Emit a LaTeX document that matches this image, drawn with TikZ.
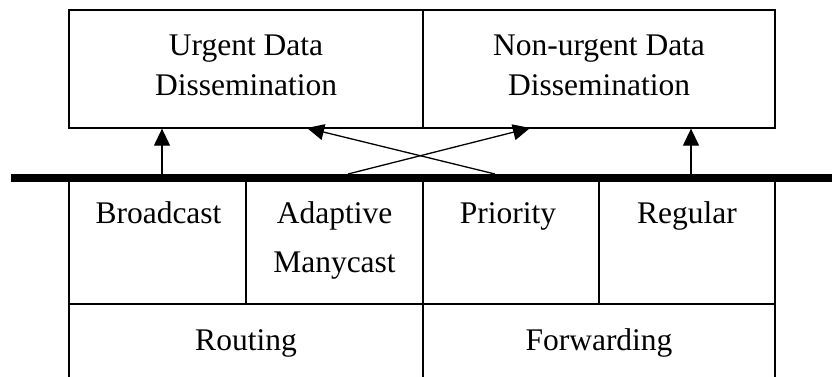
\documentclass[tikz,border=0pt]{standalone}
\usepackage{fontspec}
\setmainfont{Liberation Serif}
\usetikzlibrary{arrows.meta}
\begin{document}
\begin{tikzpicture}[x=1pt,y=-1pt,
  box/.style={draw,line width=1.3pt,inner sep=0pt,minimum width=#1},
  lbl/.style={anchor=base,inner sep=0pt,font=\fontsize{31.5}{36}\selectfont},
  arr/.style={line width=1.3pt,-{Triangle[length=17pt,width=16pt]}},
  bus/.style={line width=8pt}]
\useasboundingbox (0,0) rectangle (832,376);
\clip (0,0) rectangle (832,376);
% top boxes
\node[box=354pt,minimum height=118pt] (urg) at (246,69) {};
\node[box=352pt,minimum height=118pt] (non) at (599,69) {};
\node[lbl] (urg1) at (246,55) {Urgent Data};
\node[lbl] (urg2) at (246,95) {Dissemination};
\node[lbl] (non1) at (599,55) {Non-urgent Data};
\node[lbl] (non2) at (599,95) {Dissemination};
% lower boxes
\node[box=177pt,minimum height=126pt] (bc) at (157.5,241) {};
\node[box=177pt,minimum height=126pt] (am) at (334.5,241) {};
\node[box=176pt,minimum height=126pt] (pr) at (511,241) {};
\node[box=176pt,minimum height=126pt] (rg) at (687,241) {};
\node[box=354pt,minimum height=90pt] (rt) at (246,349) {};
\node[box=352pt,minimum height=90pt] (fw) at (599,349) {};
\node[lbl] (bct) at (158.5,223) {Broadcast};
\node[lbl] (amt1) at (334.5,223) {Adaptive};
\node[lbl] (amt2) at (334.5,272) {Manycast};
\node[lbl] (prt) at (508,223) {Priority};
\node[lbl] (rgt) at (687,223) {Regular};
\node[lbl] (rtt) at (246,350) {Routing};
\node[lbl] (fwt) at (599,350) {Forwarding};
% bus
\coordinate (busL) at (11,178);
\coordinate (busR) at (840,178);
\draw[bus] (busL) -- (busR);
% arrows
\coordinate (s1) at (162,174);
\coordinate (s2) at (691,174);
\coordinate (s3) at (495,174);
\coordinate (s4) at (348,174);
\coordinate (t3) at (307,128);
\coordinate (t4) at (530,128);
\draw[arr] (s1) -- (s1 |- urg.south);
\draw[arr] (s2) -- (s2 |- non.south);
\draw[arr] (s3) -- (t3);
\draw[arr] (s4) -- (t4);
\end{tikzpicture}
\end{document}
